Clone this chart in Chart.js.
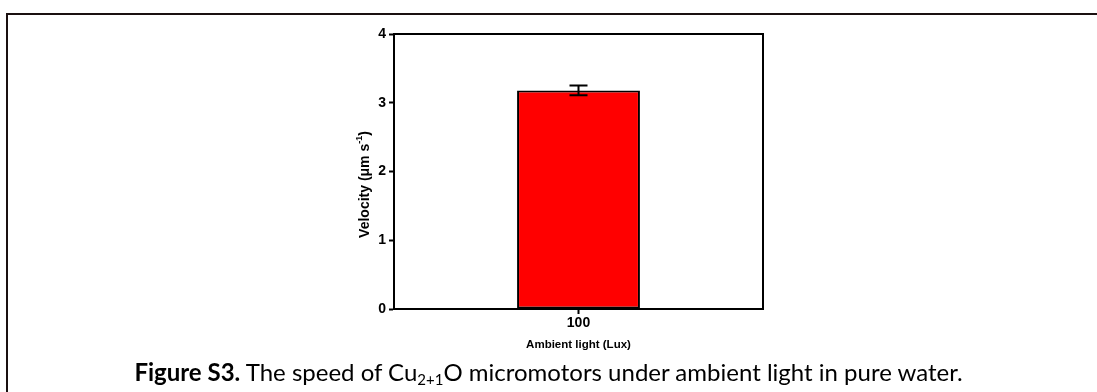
<!DOCTYPE html>
<html>
<head>
<meta charset="utf-8">
<script src="https://cdn.jsdelivr.net/npm/chart.js@4"></script>
<style>
  html, body { margin: 0; padding: 0; background: #fff; }
  #wrap { position: relative; width: 1097px; height: 392px; overflow: hidden; }
  #frame { position: absolute; left: 6px; top: 13px; width: 1200px; height: 500px;
           border-top: 2px solid #1a1010; border-left: 2px solid #1a1010; }
  #chartBox { position: absolute; left: 0; top: 0; width: 1097px; height: 392px; }
  #caption { position: absolute; left: 0; width: 1097px; top: 357px; text-align: center;
             font-family: Lato, sans-serif; font-size: 24px; color: #000; white-space: nowrap; }
  #caption sub { font-size: 15px; vertical-align: -4px; line-height: 0; }
</style>
</head>
<body>
<div id="wrap">
  <div id="frame"></div>
  <div id="chartBox"><canvas id="myChart"></canvas></div>
  <div id="caption"><b>Figure S3.</b> The speed of Cu<sub>2+1</sub>O micromotors under ambient light in pure water.</div>
</div>
<script>
'use strict';
// values
const categories = ['100'];
const velocity = [3.18];
const velocityErr = [0.07];
const yTicks = [0, 1, 2, 3, 4];
// y title in pieces: text, superscript, text
const yTitleParts = ['Velocity (\u03bcm s', '-1', ')'];

const fontFamily = '"Liberation Sans", Arial, sans-serif';
const tickFont = { family: fontFamily, size: 14, weight: 'bold' };

// box around plot, error bars, y title with superscript
const extrasPlugin = {
  id: 'extras',
  afterDatasetsDraw(chart) {
    const ctx = chart.ctx;
    const area = chart.chartArea;
    const yScale = chart.scales.y;
    const meta = chart.getDatasetMeta(0);
    ctx.save();
    ctx.strokeStyle = '#000';
    ctx.lineWidth = 2;
    meta.data.forEach(function(bar, i) {
      const hi = yScale.getPixelForValue(velocity[i] + velocityErr[i]);
      const lo = yScale.getPixelForValue(velocity[i] - velocityErr[i]);
      const half = 9;
      ctx.beginPath();
      ctx.moveTo(bar.x, hi); ctx.lineTo(bar.x, lo);
      ctx.moveTo(bar.x - half, hi); ctx.lineTo(bar.x + half, hi);
      ctx.moveTo(bar.x - half, lo); ctx.lineTo(bar.x + half, lo);
      ctx.stroke();
    });
    ctx.beginPath();
    ctx.moveTo(area.left, area.top); ctx.lineTo(area.right, area.top); ctx.lineTo(area.right, area.bottom);
    ctx.stroke();

    // y axis title
    const big = 'bold 14px ' + fontFamily;
    const small = 'bold 9px ' + fontFamily;
    ctx.font = big;
    const w0 = ctx.measureText(yTitleParts[0]).width;
    const w2 = ctx.measureText(yTitleParts[2]).width;
    ctx.font = small;
    const w1 = ctx.measureText(yTitleParts[1]).width;
    const total = w0 + w1 + w2;
    const cx = yScale.left + 11;
    const cy = (area.top + area.bottom) / 2 + 13;
    ctx.translate(cx, cy);
    ctx.rotate(-Math.PI / 2);
    ctx.fillStyle = '#000';
    ctx.textBaseline = 'middle';
    ctx.textAlign = 'left';
    let x = -total / 2;
    ctx.font = big;
    ctx.fillText(yTitleParts[0], x, 0);
    x += w0;
    ctx.font = small;
    ctx.fillText(yTitleParts[1], x, -5);
    x += w1;
    ctx.font = big;
    ctx.fillText(yTitleParts[2], x, 0);
    ctx.restore();
  }
};

const ctx = document.getElementById('myChart').getContext('2d');
const myChart = new Chart(ctx, {
  type: 'bar',
  data: {
    labels: categories,
    datasets: [{
      data: velocity,
      backgroundColor: '#ff0000',
      borderColor: '#000',
      borderWidth: 2,
      borderSkipped: false,
      categoryPercentage: 1,
      barPercentage: 0.333
    }]
  },
  options: {
    responsive: true,
    maintainAspectRatio: false,
    animation: false,
    layout: { padding: { left: 354, top: 34, right: 334, bottom: 40 } },
    plugins: { legend: { display: false }, tooltip: { enabled: false } },
    scales: {
      x: {
        grid: { display: true, offset: false, drawOnChartArea: false, tickLength: 5, tickColor: '#000', tickWidth: 2 },
        border: { color: '#000', width: 2 },
        ticks: { color: '#000', font: tickFont, padding: 1 },
        title: { display: true, text: 'Ambient light (Lux)', color: '#000',
                 font: { family: fontFamily, size: 11.5, weight: 'bold' }, padding: { top: 0, bottom: 0 } },
        afterFit(scale) { scale.height = 43; }
      },
      y: {
        min: 0,
        max: 4,
        afterBuildTicks(scale) { scale.ticks = yTicks.map(v => ({ value: v })); },
        grid: { display: true, drawOnChartArea: false, tickLength: 5, tickColor: '#000', tickWidth: 2 },
        border: { color: '#000', width: 2 },
        ticks: { color: '#000', font: tickFont, padding: 3 },
        title: { display: false },
        afterFit(scale) { scale.width = 40; }
      }
    }
  },
  plugins: [extrasPlugin]
});
</script>
</body>
</html>
